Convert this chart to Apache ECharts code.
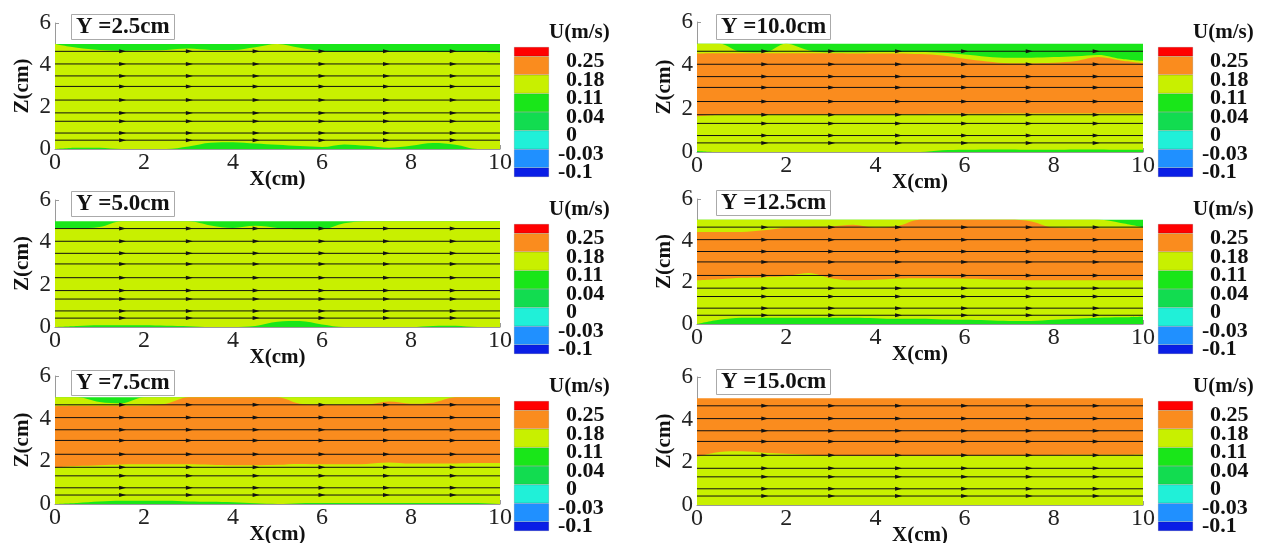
<!DOCTYPE html>
<html>
<head>
<meta charset="utf-8">
<script src="https://cdn.jsdelivr.net/npm/echarts@6/dist/echarts.min.js"></script>
<style>
  html, body { margin: 0; padding: 0; background: #fff; }
  #chart { width: 1266px; height: 543px; }
</style>
</head>
<body>
<div id="chart"></div>
<script>
// sample positions along X (cm) for the contour band edges
var xs = [0, 0.5, 1, 1.5, 2, 2.5, 3, 3.5, 4, 4.5, 5, 5.5, 6, 6.5, 7, 7.5, 8, 8.5, 9, 9.5, 10];
var zTop = [5, 5, 5, 5, 5, 5, 5, 5, 5, 5, 5, 5, 5, 5, 5, 5, 5, 5, 5, 5, 5];

// Y = 2.5cm
var y25GreenTop = [5, 4.82, 4.72, 4.68, 4.7, 4.72, 4.78, 4.72, 4.72, 4.85, 5, 4.82, 4.66, 4.62, 4.62, 4.62, 4.64, 4.62, 4.62, 4.62, 4.6];
var y25GreenBot = [0, 0.06, 0.06, 0, 0, 0, 0.12, 0.3, 0.32, 0.26, 0.2, 0.14, 0.1, 0.22, 0.15, 0.06, 0.15, 0.28, 0.2, 0, 0];
// Y = 5.0cm
var y50GreenTop = [4.68, 4.66, 4.72, 5, 5, 5, 5, 4.8, 4.68, 4.78, 4.68, 4.62, 4.62, 4.9, 5, 5, 5, 5, 5, 5, 5];
var y50GreenBot = [0, 0.05, 0.08, 0.08, 0.08, 0.06, 0.04, 0, 0, 0.05, 0.25, 0.28, 0.12, 0, 0, 0, 0, 0.05, 0.06, 0, 0];
// Y = 7.5cm
var y75GreenTop = [5, 5, 4.78, 4.72, 5, 5, 5, 5, 5, 5, 5, 5, 5, 5, 5, 5, 5, 5, 5, 5, 5];
var y75OrangeTop = [4.58, 4.6, 4.6, 4.6, 4.62, 4.7, 5, 5, 5, 5, 5, 4.7, 4.66, 4.65, 4.66, 4.8, 4.7, 4.75, 5, 5, 5];
var y75OrangeBot = [1.72, 1.78, 1.82, 1.85, 1.86, 1.86, 1.86, 1.84, 1.82, 1.82, 1.84, 1.88, 1.86, 1.86, 1.88, 1.95, 1.9, 1.9, 1.9, 1.92, 1.92];
var y75GreenBot = [0, 0.05, 0.12, 0.15, 0.15, 0.15, 0.12, 0.1, 0.08, 0.03, 0, 0.04, 0.05, 0.05, 0.05, 0.05, 0.05, 0.05, 0.05, 0.05, 0.05];
// Y = 10.0cm
var y10GreenTop = [5, 5, 4.62, 4.6, 5, 4.7, 4.6, 4.6, 4.62, 4.62, 4.62, 4.58, 4.5, 4.4, 4.35, 4.35, 4.38, 4.42, 4.48, 4.3, 4.2];
var y10OrangeTop = [4.55, 4.56, 4.56, 4.56, 4.56, 4.56, 4.56, 4.55, 4.55, 4.55, 4.52, 4.45, 4.3, 4.18, 4.1, 4.1, 4.12, 4.2, 4.38, 4.22, 4.1];
var y10OrangeBot = [1.65, 1.72, 1.75, 1.75, 1.75, 1.74, 1.74, 1.74, 1.75, 1.75, 1.75, 1.76, 1.76, 1.76, 1.78, 1.78, 1.78, 1.78, 1.78, 1.78, 1.78];
var y10GreenBot = [0.05, 0, 0, 0, 0, 0, 0, 0, 0, 0, 0, 0.08, 0.1, 0.12, 0.12, 0.1, 0.1, 0.12, 0.12, 0.1, 0.1];
// Y = 12.5cm
var y125GreenTop = [5, 5, 5, 5, 5, 5, 5, 5, 5, 5, 5, 5, 5, 5, 5, 5, 5, 5, 5, 4.85, 4.65];
var y125OrangeTop = [4.42, 4.42, 4.42, 4.5, 4.62, 4.66, 4.68, 4.76, 4.62, 4.7, 5, 5, 5, 5, 5, 4.92, 4.62, 4.6, 4.6, 4.6, 4.6];
var y125OrangeBot = [2.1, 2.15, 2.22, 2.25, 2.3, 2.45, 2.2, 2.1, 2.12, 2.18, 2.2, 2.2, 2.18, 2.15, 2.12, 2.1, 2.1, 2.1, 2.1, 2.1, 2.1];
var y125GreenBot = [0, 0.2, 0.3, 0.3, 0.3, 0.3, 0.3, 0.3, 0.28, 0.25, 0.25, 0.22, 0.2, 0.18, 0.15, 0.15, 0.2, 0.25, 0.3, 0.32, 0.35];
// Y = 15.0cm
var y15OrangeBot = [2.25, 2.48, 2.52, 2.45, 2.4, 2.36, 2.32, 2.3, 2.3, 2.3, 2.3, 2.3, 2.32, 2.32, 2.33, 2.33, 2.34, 2.35, 2.36, 2.36, 2.37];

// streamlines
var streamZ = [4.65, 4.05, 3.48, 2.98, 2.33, 1.72, 1.32, 0.76, 0.42];
var streamX = [0, 1.52, 3.02, 4.52, 6.0, 7.45, 8.95, 10];

// colour legend
var levelLabels = ['-0.1', '-0.03', '0', '0.04', '0.11', '0.18', '0.25'];
var bandSpan = [0.5, 1, 1, 1, 1, 1, 1, 0.5];

var cRed = '#FF0000', cOrange = '#FA8C1E', cYellow = '#C8F000', cGreen = '#19E619',
    cGreen2 = '#12DC50', cCyan = '#20F0D8', cBlue = '#2090FF', cNavy = '#0A1EE6';
var bandColors = [cNavy, cBlue, cCyan, cGreen2, cGreen, cYellow, cOrange, cRed];

var panels = [
  {title: 'Y =2.5cm', layers: [[cGreen, zTop], [cYellow, y25GreenTop], [cGreen, y25GreenBot]]},
  {title: 'Y =10.0cm', layers: [[cGreen, zTop], [cYellow, y10GreenTop], [cOrange, y10OrangeTop], [cYellow, y10OrangeBot], [cGreen, y10GreenBot]]},
  {title: 'Y =5.0cm', layers: [[cGreen, zTop], [cYellow, y50GreenTop], [cGreen, y50GreenBot]]},
  {title: 'Y =12.5cm', layers: [[cGreen, zTop], [cYellow, y125GreenTop], [cOrange, y125OrangeTop], [cYellow, y125OrangeBot], [cGreen, y125GreenBot]]},
  {title: 'Y =7.5cm', layers: [[cGreen, zTop], [cYellow, y75GreenTop], [cOrange, y75OrangeTop], [cYellow, y75OrangeBot], [cGreen, y75GreenBot]]},
  {title: 'Y =15.0cm', layers: [[cOrange, zTop], [cYellow, y15OrangeBot]]}
];

// layout: [left, top, width, height]
var gridPos = [[55, 23, 445, 126], [697, 22, 446, 130], [55, 200, 445, 127], [697, 199, 446, 125], [55, 376, 445, 128], [697, 377, 446, 128]];
var barPos = [[514, 47], [1158, 47], [514, 224], [1158, 224], [514, 401], [1158, 401]];
var titlePos = [[71, 14], [716, 14], [71, 191], [716, 190], [71, 370], [716, 369]];

var serif = "'Liberation Serif', 'Times New Roman', serif";
var axisGrey = '#9a9a9a';

var option = {animation: false, title: [], grid: [], xAxis: [], yAxis: [], series: []};

panels.forEach(function (p, i) {
  var g = gridPos[i];
  option.grid.push({left: g[0], top: g[1], width: g[2], height: g[3], outerBoundsMode: 'none'});
  option.title.push({
    text: p.title, left: titlePos[i][0], top: titlePos[i][1],
    padding: [1, 5, 0, 5], borderColor: '#aaa', borderWidth: 1, backgroundColor: '#fff',
    textStyle: {fontFamily: serif, fontWeight: 'bold', fontSize: 23, color: '#111', lineHeight: 25}
  });
  option.xAxis.push({
    type: 'value', gridIndex: i, min: 0, max: 10, interval: 2,
    name: 'X(cm)', nameLocation: 'middle', nameGap: 20, nameMoveOverlap: false,
    nameTextStyle: {fontFamily: serif, fontWeight: 'bold', fontSize: 21, color: '#111'},
    axisLine: {lineStyle: {color: axisGrey}},
    axisTick: {inside: true, length: 4, lineStyle: {color: axisGrey}},
    minorTick: {show: true, splitNumber: 4, length: 2, lineStyle: {color: axisGrey}},
    axisLabel: {fontFamily: serif, fontSize: 24, color: '#222', margin: 2},
    splitLine: {show: false}
  });
  option.yAxis.push({
    type: 'value', gridIndex: i, min: 0, max: 6, interval: 2,
    name: 'Z(cm)', nameLocation: 'middle', nameGap: 22, nameMoveOverlap: false,
    nameTextStyle: {fontFamily: serif, fontWeight: 'bold', fontSize: 21, color: '#111'},
    axisLine: {show: true, lineStyle: {color: axisGrey}},
    axisTick: {show: true, inside: true, length: 4, lineStyle: {color: axisGrey}},
    axisLabel: {fontFamily: serif, fontSize: 23, color: '#222', margin: 4, padding: [4, 0, 0, 0]},
    splitLine: {show: false}
  });
  p.layers.forEach(function (l) {
    option.series.push({
      type: 'line', xAxisIndex: i, yAxisIndex: i, silent: true, z: 1,
      data: xs.map(function (x, k) { return [x, l[1][k]]; }),
      smooth: 0.35, symbol: 'none',
      lineStyle: {width: 0},
      areaStyle: {color: l[0], opacity: 1}
    });
  });
  streamZ.forEach(function (z) {
    option.series.push({
      type: 'line', xAxisIndex: i, yAxisIndex: i, silent: true, z: 3,
      data: streamX.map(function (x) { return [x, z]; }),
      showAllSymbol: true,
      symbol: function (v, pr) {
        return (pr.dataIndex > 0 && pr.dataIndex < streamX.length - 1) ? 'triangle' : 'none';
      },
      symbolRotate: -90, symbolSize: [4, 7],
      itemStyle: {color: '#111'},
      lineStyle: {color: '#111', width: 1}
    });
  });
});

// colour bars
barPos.forEach(function (b, i) {
  var gi = 6 + i;
  option.grid.push({left: b[0], top: b[1], width: 35, height: 130, outerBoundsMode: 'none'});
  option.xAxis.push({type: 'category', gridIndex: gi, data: [''], show: false});
  option.yAxis.push({
    type: 'value', gridIndex: gi, min: 0, max: 7, interval: 0.5, position: 'right',
    name: 'U(m/s)', nameLocation: 'end', nameGap: 4,
    nameTextStyle: {fontFamily: serif, fontWeight: 'bold', fontSize: 21, color: '#111', align: 'left'},
    axisLine: {show: false}, axisTick: {show: false}, splitLine: {show: false},
    axisLabel: {
      margin: 9,
      formatter: function (v) {
        var k = v - 0.5;
        if (Math.abs(k - Math.round(k)) > 1e-6) return '';
        var lab = levelLabels[Math.round(k)];
        if (lab === undefined) return '';
        return lab.charAt(0) === '-' ? '{n|' + lab + '}' : '{p|' + lab + '}';
      },
      rich: {
        n: {fontFamily: serif, fontWeight: 'bold', fontSize: 22, color: '#111', padding: [10, 0, 0, 0]},
        p: {fontFamily: serif, fontWeight: 'bold', fontSize: 22, color: '#111', padding: [10, 0, 0, 8]}
      }
    }
  });
  bandColors.forEach(function (c, k) {
    option.series.push({
      type: 'bar', xAxisIndex: gi, yAxisIndex: gi, stack: 'cb' + i, silent: true,
      barWidth: '100%', data: [bandSpan[k]],
      itemStyle: {color: c, borderColor: 'rgba(0,0,0,0.25)', borderWidth: 0.5}
    });
  });
});

var chart = echarts.init(document.getElementById('chart'));
chart.setOption(option);
</script>
</body>
</html>
